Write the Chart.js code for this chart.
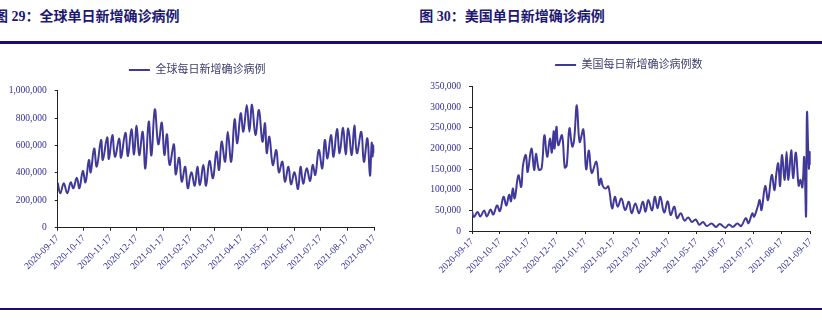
<!DOCTYPE html>
<html>
<head>
<meta charset="utf-8">
<script src="https://cdn.jsdelivr.net/npm/chart.js@4.4.0/dist/chart.umd.min.js"></script>
<style>
  body { margin: 0; width: 822px; height: 335px; overflow: hidden; position: relative; background: #fff; }
  .title { position: absolute; top: 9.5px; font: bold 14px/14px "Liberation Serif", "Noto Sans CJK SC", serif; color: #1d1873; white-space: nowrap; }
  .rule { position: absolute; left: 0; width: 822px; height: 2.5px; background: #1a0c7c; }
  canvas { position: absolute; }
</style>
</head>
<body>
<div class="title" style="left:-6px">图 29：全球单日新增确诊病例</div>
<div class="title" style="left:419.3px">图 30：美国单日新增确诊病例</div>
<div class="rule" style="top:41.3px"></div>
<div class="rule" style="top:307.7px"></div>
<canvas id="c1" width="394" height="240" style="left:0;top:50px"></canvas>
<canvas id="c2" width="407" height="245" style="left:425px;top:45px"></canvas>
<script>
// 刻度标签
var tickLabels = ['2020-09-17', '2020-10-17', '2020-11-17', '2020-12-17', '2021-01-17', '2021-02-17', '2021-03-17',
    '2021-04-17', '2021-05-17', '2021-06-17', '2021-07-17', '2021-08-17', '2021-09-17'];

// 全球每日新增确诊病例 (天数自 2020-09-17 起)
var globalDays = [0, 3, 7, 11, 15, 18, 22, 25, 29, 32, 36, 38, 42, 45, 50, 52, 57, 59, 63, 66,
    71, 73, 78, 81, 85, 88, 91, 94, 98, 101, 105, 108, 112, 116, 120, 123, 126, 129, 134, 136,
    140, 143, 147, 150, 154, 158, 161, 164, 168, 171, 175, 179, 183, 186, 189, 193, 196, 200, 204, 207,
    211, 214, 218, 221, 224, 228, 232, 236, 239, 241, 244, 248, 252, 255, 259, 262, 266, 269, 273, 277,
    280, 283, 287, 291, 294, 297, 301, 305, 308, 311, 315, 318, 322, 325, 329, 332, 335, 339, 342, 345,
    350, 353, 357, 360, 362, 363, 364, 365];
var globalCases = [328000, 251000, 324000, 251000, 331000, 288000, 365000, 288000, 414000, 331000,
    494000, 404000, 579000, 445000, 640000, 494000, 660000, 501000, 676000, 518000,
    652000, 510000, 693000, 523000, 718000, 535000, 745000, 530000, 700000, 433000,
    774000, 528000, 864000, 609000, 767000, 531000, 682000, 458000, 609000, 390000,
    511000, 336000, 445000, 288000, 404000, 307000, 445000, 312000, 458000, 307000,
    487000, 361000, 555000, 421000, 628000, 482000, 701000, 482000, 791000, 616000,
    835000, 701000, 896000, 701000, 898000, 677000, 859000, 628000, 762000, 545000,
    664000, 458000, 567000, 404000, 482000, 336000, 445000, 317000, 404000, 283000,
    445000, 321000, 433000, 341000, 458000, 385000, 567000, 433000, 640000, 506000,
    677000, 518000, 720000, 543000, 730000, 535000, 725000, 530000, 745000, 543000,
    700000, 480000, 652000, 380000, 620000, 520000, 600000, 545000];

// 美国每日新增确诊病例数
var usDays = [0, 2, 6, 9, 13, 16, 20, 23, 27, 30, 34, 37, 40, 42, 44, 46, 50, 53, 55, 58, 60,
    64, 67, 69, 72, 75, 78, 81, 84, 86, 88, 89, 91, 93, 97, 100, 102, 105, 108, 110, 113,
    116, 120, 123, 126, 129, 134, 137, 139, 141, 144, 147, 151, 154, 157, 161, 165, 169, 172, 176, 180,
    184, 187, 190, 194, 197, 200, 203, 207, 211, 214, 218, 221, 225, 229, 233, 237, 241, 245, 249, 253,
    258, 263, 267, 273, 277, 281, 286, 290, 295, 298, 302, 304, 308, 310, 312, 316, 319, 323, 326, 328,
    330, 332, 334, 337, 339, 341, 344, 346, 349, 352, 354, 356, 358, 360, 361, 363, 364, 365];
var usCases = [49000, 34000, 46000, 35000, 50000, 35000, 52000, 40000, 62000, 48000,
    83000, 62000, 88000, 72000, 103000, 79000, 135000, 107000, 160000, 184000, 143000,
    200000, 148000, 188000, 149000, 152000, 232000, 180000, 224000, 190000, 242000,
    200000, 253000, 208000, 232000, 154000, 158000, 249000, 205000, 220000, 305000,
    216000, 246000, 150000, 195000, 141000, 168000, 112000, 127000, 109000, 103000,
    108000, 55000, 83000, 59000, 79000, 51000, 71000, 43000, 67000, 43000,
    71000, 47000, 75000, 50000, 83000, 55000, 83000, 45000, 72000, 39000,
    59000, 31000, 43000, 25000, 33000, 22000, 28000, 15000, 22000, 12000,
    18000, 10000, 17000, 8000, 16000, 10000, 18000, 12000, 31000, 19000,
    43000, 35000, 60000, 75000, 51000, 109000, 75000, 136000, 99000, 140000,
    164000, 109000, 184000, 124000, 192000, 124000, 196000, 128000, 190000, 110000,
    124000, 106000, 179000, 36000, 288000, 152000, 192000, 160000];

var LINE = '#41399a';
var TICK = '#2e2e9a';
var AXIS = '#222';
var serif = '"Liberation Serif", "Times New Roman", serif';

var t0 = Date.parse(tickLabels[0]);
var tickDays = tickLabels.map(function (s) { return Math.round((Date.parse(s) - t0) / 86400000); });

// 图例整体右移
var legendShift = {
    id: 'legendShift',
    afterLayout: function (chart, args, opts) {
        if (chart.legend) {
            chart.legend.left += opts.dx;
            chart.legend.right += opts.dx;
        }
    }
};

function makeChart(id, days, values, label, yMax, yStep, yWidth, xHeight, spacer, padRight, dx) {
    var pts = days.map(function (d, i) { return { x: d, y: values[i] }; });
    return new Chart(document.getElementById(id), {
        type: 'line',
        data: {
            datasets: [{
                label: label,
                data: pts,
                borderColor: LINE,
                backgroundColor: LINE,
                borderWidth: 2,
                pointRadius: 0,
                tension: 0.4,
                fill: false
            }]
        },
        plugins: [legendShift],
        options: {
            responsive: false,
            animation: false,
            devicePixelRatio: 1,
            layout: { padding: { left: 0, right: padRight, top: 0, bottom: 0 } },
            plugins: {
                legendShift: { dx: dx },
                legend: {
                    position: 'top',
                    labels: {
                        boxWidth: 21,
                        boxHeight: 2,
                        padding: 14.5,
                        color: '#3c3c6e',
                        font: { family: serif + ', "Noto Sans CJK SC"', size: 11 },
                        generateLabels: function (chart) {
                            return Chart.defaults.plugins.legend.labels.generateLabels(chart).map(function (l) {
                                l.lineWidth = 0;
                                l.fillStyle = LINE;
                                return l;
                            });
                        }
                    }
                },
                // 图例与绘图区之间的空白
                title: { display: true, text: '', weight: 500, padding: 0, font: { size: spacer, lineHeight: 1 } },
                tooltip: { enabled: false }
            },
            scales: {
                x: {
                    type: 'linear',
                    min: 0,
                    max: 365,
                    afterBuildTicks: function (s) { s.ticks = tickDays.map(function (v) { return { value: v }; }); },
                    afterFit: function (s) { s.height = xHeight; },
                    grid: { drawOnChartArea: false, drawTicks: true, tickLength: 3, color: AXIS },
                    border: { display: true, color: AXIS, width: 1 },
                    ticks: {
                        autoSkip: false,
                        maxRotation: 45,
                        minRotation: 45,
                        padding: 2,
                        color: TICK,
                        font: { family: serif, size: 9.5 },
                        callback: function (v) { return tickLabels[tickDays.indexOf(v)]; }
                    }
                },
                y: {
                    min: 0,
                    max: yMax,
                    afterFit: function (s) { s.width = yWidth; },
                    grid: { drawOnChartArea: false, drawTicks: true, tickLength: 3, color: AXIS },
                    border: { display: true, color: AXIS, width: 1 },
                    ticks: {
                        stepSize: yStep,
                        padding: 8,
                        color: TICK,
                        font: { family: serif, size: 9.5 },
                        callback: function (v) { return v.toLocaleString('en-US'); }
                    }
                }
            }
        }
    });
}

makeChart('c1', globalDays, globalCases, '全球每日新增确诊病例', 1000000, 200000, 57.7, 62.3, 5.2, 19.7, 10);
makeChart('c2', usDays, usCases, '美国每日新增确诊病例数', 350000, 50000, 47, 59, 6.2, 21.3, 11);
</script>
</body>
</html>
